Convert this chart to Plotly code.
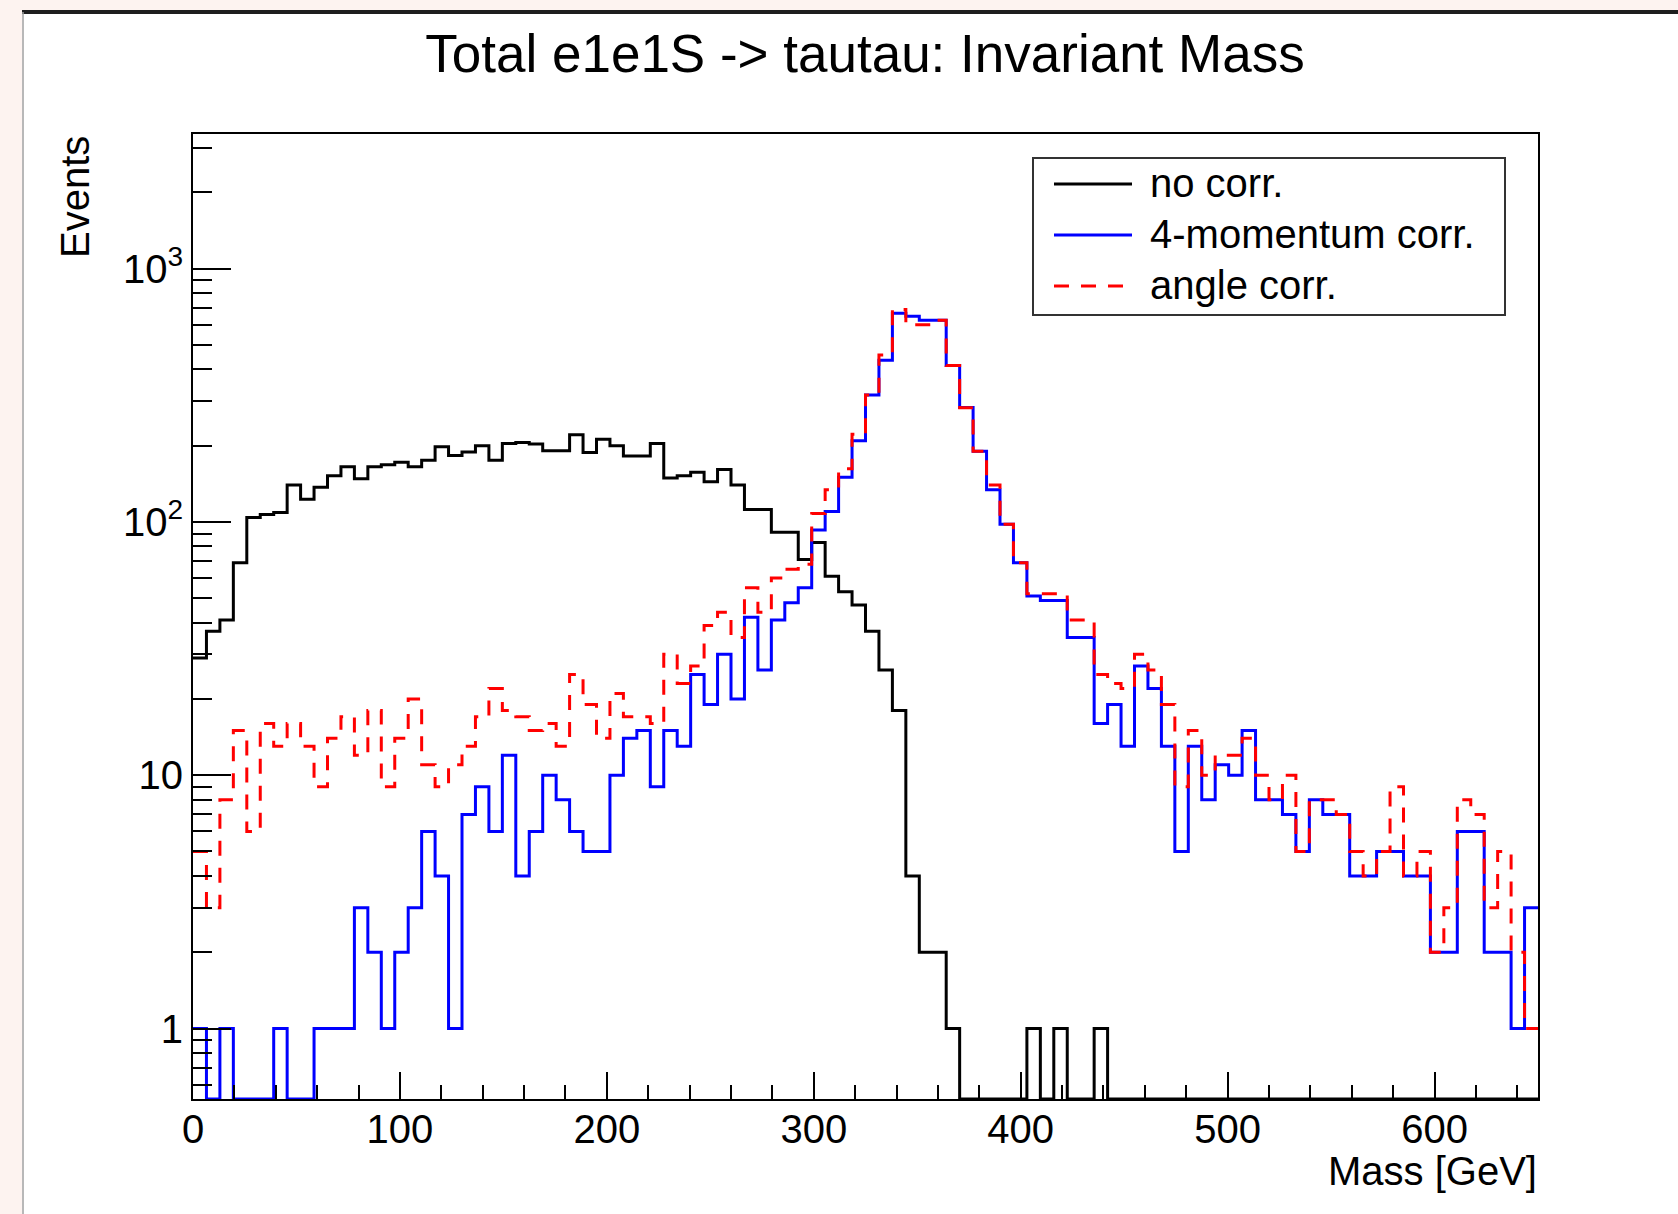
import numpy as np
import plotly.graph_objects as go

# ---------------- data ----------------
MASS_MIN, MASS_MAX, N_BINS = 0.0, 650.0, 100

no_corr = [29, 37, 41, 69, 104, 107, 109, 140, 123, 137,
           152, 165, 148, 165, 168, 172, 165, 175, 198, 183,
           189, 200, 175, 204, 206, 203, 191, 191, 221, 188,
           212, 200, 182, 182, 204, 149, 152, 157, 144, 161,
           140, 112, 112, 91, 91, 71, 83, 61, 53, 47,
           37, 26, 18, 4, 2, 2, 1, 0, 0, 0,
           0, 0, 1, 0, 1, 0, 0, 1, 0, 0,
           0, 0, 0, 0, 0, 0, 0, 0, 0, 0,
           0, 0, 0, 0, 0, 0, 0, 0, 0, 0,
           0, 0, 0, 0, 0, 0, 0, 0, 0, 0]

mom_corr = [1, 0, 1, 0, 0, 0, 1, 0, 0, 1,
            1, 1, 3, 2, 1, 2, 3, 6, 4, 1,
            7, 9, 6, 12, 4, 6, 10, 8, 6, 5,
            5, 10, 14, 15, 9, 15, 13, 25, 19, 30,
            20, 42, 26, 41, 48, 55, 93, 110, 150, 209,
            317, 435, 667, 648, 626, 626, 414, 283, 190, 134,
            98, 69, 51, 49, 49, 35, 35, 16, 19, 13,
            27, 22, 13, 5, 13, 8, 11, 10, 15, 8,
            8, 7, 5, 8, 7, 7, 4, 4, 5, 5,
            4, 4, 2, 2, 6, 6, 2, 2, 1, 3]

angle_corr = [5, 3, 8, 15, 6, 16, 13, 16, 13, 9,
              14, 17, 12, 18, 9, 14, 20, 11, 9, 11,
              13, 17, 22, 18, 17, 15, 16, 13, 25, 19,
              14, 21, 17, 17, 16, 30, 23, 27, 39, 44,
              35, 55, 44, 60, 65, 68, 108, 134, 162, 222,
              317, 456, 690, 600, 600, 626, 414, 282, 190, 140,
              98, 69, 52, 52, 52, 41, 41, 25, 23, 22,
              30, 26, 19, 9, 15, 10, 12, 12, 14, 10,
              8, 10, 5, 8, 8, 7, 5, 4, 5, 9,
              4, 5, 2, 3, 8, 7, 3, 5, 2, 1]

series_names = ["no corr.", "4-momentum corr.", "angle corr."]
series_colors = ["#000000", "#0000ff", "#ff0000"]
series_dash = ["solid", "solid", "15px,12px"]

x_tickvals = [0, 100, 200, 300, 400, 500, 600]
y_tickvals = [1, 10, 100, 1000]
y_ticktext = ["1", "10", "10<sup>2</sup>", "10<sup>3</sup>"]
y_minor_vals = [0.6, 0.7, 0.8, 0.9,
                2, 3, 4, 5, 6, 7, 8, 9,
                20, 30, 40, 50, 60, 70, 80, 90,
                200, 300, 400, 500, 600, 700, 800, 900,
                2000, 3000]

title_text = "Total e1e1S -> tautau: Invariant Mass"
x_title = "Mass [GeV]"
y_title = "Events"

# ---------------- layout geometry ----------------
W, H = 1678, 1214
L, R, T, B = 193, 140, 134, 115
Y_RANGE = [-0.2783, 3.5314]
FONT = "Liberation Sans, Arial, Helvetica, sans-serif"
PINK = "#fdf3f0"

# legend box (pixels)
LEG_X0, LEG_X1, LEG_Y0, LEG_Y1 = 1033, 1505, 158, 315
LEG_LINE_X0, LEG_LINE_X1, LEG_TEXT_X = 1054, 1132, 1149
LEG_ROWS = [184, 235, 286]


def px_x(p):
    return (p - L) / (W - L - R)


def px_y(p):
    return 1 - (p - T) / (H - T - B)


edges = np.linspace(MASS_MIN, MASS_MAX, N_BINS + 1)
floor_val = 10 ** Y_RANGE[0]

fig = go.Figure()
for vals, name, col, dash in zip([no_corr, mom_corr, angle_corr],
                                 series_names, series_colors, series_dash):
    v = [x if x > 0 else floor_val for x in vals]
    yy = v + [v[-1]]
    fig.add_trace(go.Scatter(
        x=edges, y=yy, mode="lines", name=name, showlegend=False,
        line=dict(color=col, width=3, dash=dash, shape="hv"),
        hoverinfo="skip"))

shapes = [
    # page background strips around the canvas
    dict(type="rect", xref="paper", yref="paper",
         x0=px_x(0), x1=px_x(22), y0=px_y(H), y1=px_y(0),
         fillcolor=PINK, line=dict(width=0), layer="above"),
    dict(type="rect", xref="paper", yref="paper",
         x0=px_x(0), x1=px_x(W), y0=px_y(10), y1=px_y(0),
         fillcolor=PINK, line=dict(width=0), layer="above"),
    dict(type="line", xref="paper", yref="paper",
         x0=px_x(22), x1=px_x(W), y0=px_y(12), y1=px_y(12),
         line=dict(color="#1e1e1e", width=4), layer="above"),
    dict(type="line", xref="paper", yref="paper",
         x0=px_x(23), x1=px_x(23), y0=px_y(H), y1=px_y(12),
         line=dict(color="#a0a0a0", width=1.5), layer="above"),
    # legend box
    dict(type="rect", xref="paper", yref="paper",
         x0=px_x(LEG_X0), x1=px_x(LEG_X1), y0=px_y(LEG_Y1), y1=px_y(LEG_Y0),
         fillcolor="white", line=dict(color="#333333", width=2), layer="above"),
]

annotations = [
    dict(text=x_title, xref="paper", yref="paper", x=1.0, y=px_y(1171),
         xanchor="right", yanchor="middle", showarrow=False, borderpad=0,
         font=dict(family=FONT, size=40, color="black")),
    dict(text=y_title, xref="paper", yref="paper", x=px_x(75), y=1.0,
         xanchor="center", yanchor="top", textangle=-90, showarrow=False,
         font=dict(family=FONT, size=40, color="black")),
]

for name, col, dash, row in zip(series_names, series_colors, series_dash, LEG_ROWS):
    shapes.append(dict(type="line", xref="paper", yref="paper",
                       x0=px_x(LEG_LINE_X0), x1=px_x(LEG_LINE_X1),
                       y0=px_y(row), y1=px_y(row),
                       line=dict(color=col, width=3, dash=dash), layer="above"))
    annotations.append(dict(text=name, xref="paper", yref="paper",
                            x=px_x(LEG_TEXT_X), y=px_y(row - 1),
                            xanchor="left", yanchor="middle", showarrow=False,
                            borderpad=0,
                            font=dict(family=FONT, size=40, color="black")))

fig.update_layout(
    width=W, height=H,
    margin=dict(l=L, r=R, t=T, b=B, pad=0),
    paper_bgcolor="white", plot_bgcolor="white",
    font=dict(family=FONT, size=40, color="black"),
    title=dict(text=title_text, x=865 / W, xref="container", xanchor="center",
               y=1 - 53 / H, yref="container", yanchor="middle",
               font=dict(family=FONT, size=53, color="black")),
    showlegend=False,
    shapes=shapes, annotations=annotations,
)

fig.update_xaxes(
    range=[MASS_MIN, MASS_MAX], showgrid=False, zeroline=False,
    showline=True, linecolor="black", linewidth=2, mirror=True,
    ticks="inside", tickvals=x_tickvals, ticklen=27, tickwidth=2,
    tickcolor="black", tickfont=dict(family=FONT, size=40, color="black"),
    ticklabelstandoff=-6,
    minor=dict(ticks="inside", tickmode="linear", tick0=0, dtick=20,
               ticklen=14, tickwidth=2, tickcolor="black", showgrid=False),
)
fig.update_yaxes(
    type="log", range=Y_RANGE, showgrid=False, zeroline=False,
    showline=True, linecolor="black", linewidth=2, mirror=True,
    ticks="inside", tickvals=y_tickvals, ticktext=y_ticktext,
    ticklen=38, tickwidth=2, tickcolor="black",
    tickfont=dict(family=FONT, size=40, color="black"),
    minor=dict(ticks="inside", tickmode="array", tickvals=y_minor_vals,
               ticklen=19, tickwidth=2, tickcolor="black", showgrid=False),
)

fig.write_html("out.html")
